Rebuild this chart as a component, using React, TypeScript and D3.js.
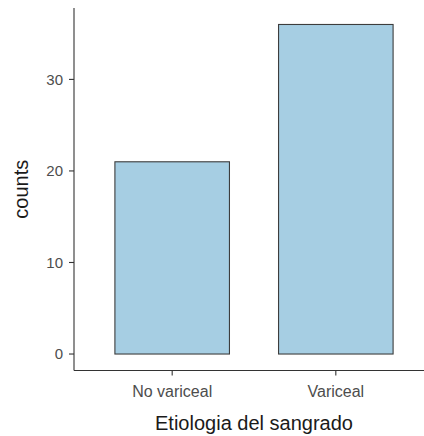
import React from "react";
import * as d3 from "d3";

const categories = ["No variceal", "Variceal"];
const counts = [21, 36];
const yTicks = [0, 10, 20, 30];
const xTitle = "Etiologia del sangrado";
const yTitle = "counts";

export default function App() {
  const W = 424, H = 436;
  const left = 74, right = 434, top = 8, bottom = 370.5;
  const maxV = d3.max(counts) as number;
  const y = d3.scaleLinear().domain([-maxV * 0.05, maxV * 1.05]).range([bottom, top]);
  const x = d3.scalePoint<string>().domain(categories).range([left, right]).padding(0.6);
  const step = x.step();
  const bw = step * 0.7;
  const font = "'Liberation Sans', Arial, Helvetica, sans-serif";
  const lineCol = "#333333";
  return (
    <svg width={W} height={H} style={{ position: "absolute", left: 0, top: 0, display: "block" }} fontFamily={font}>
      <rect width={W} height={H} fill="#ffffff" />
      {categories.map((c, i) => (
        <rect key={c} x={(x(c) as number) - bw / 2} y={y(counts[i])} width={bw} height={y(0) - y(counts[i])}
          fill="#a6cee3" stroke="#3d3d3d" strokeWidth={1.1} />
      ))}
      <line x1={left} x2={W + 2} y1={bottom} y2={bottom} stroke={lineCol} strokeWidth={1.1} />
      <line x1={left} x2={left} y1={top} y2={bottom} stroke={lineCol} strokeWidth={1.1} />
      {yTicks.map(t => (
        <g key={t}>
          <line x1={left - 5} x2={left} y1={y(t)} y2={y(t)} stroke={lineCol} strokeWidth={1.1} />
          <text x={left - 11} y={y(t)} dy="0.36em" textAnchor="end" fontSize={15} fill="#4d4d4d">{t}</text>
        </g>
      ))}
      {categories.map(c => (
        <g key={c}>
          <line x1={x(c)} x2={x(c)} y1={bottom} y2={bottom + 5} stroke={lineCol} strokeWidth={1.1} />
          <text x={x(c)} y={397} textAnchor="middle" fontSize={16} fill="#4d4d4d">{c}</text>
        </g>
      ))}
      <text x={(left + right) / 2 - 0} y={430} textAnchor="middle" fontSize={20} fill="#1a1a1a">{xTitle}</text>
      <text transform={`translate(28, ${(top + bottom) / 2}) rotate(-90)`} textAnchor="middle" fontSize={20} fill="#1a1a1a">{yTitle}</text>
    </svg>
  );
}
